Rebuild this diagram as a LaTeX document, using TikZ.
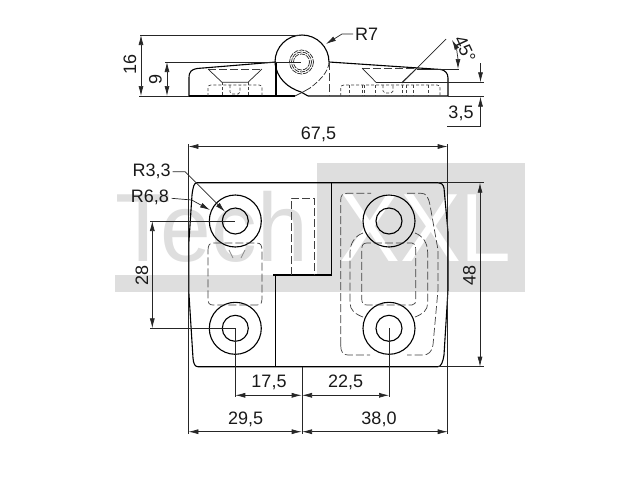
\documentclass[tikz,border=0pt]{standalone}
\usepackage{fontspec}
\setmainfont{Liberation Sans}
\usetikzlibrary{arrows.meta}
\definecolor{wm}{HTML}{DEDEDE}
\tikzset{
  x=1pt,y=-1pt,
  body/.style={line width=1.1pt,black},
  thin line/.style={line width=0.7pt,black!85},
  hid/.style={line width=0.7pt,black!75,dash pattern=on 8pt off 3pt},
  hidd/.style={line width=0.7pt,black!75,dash pattern=on 3pt off 2pt},
  dimn/.style={thin line,{Latex[length=10pt,width=5pt]}-{Latex[length=10pt,width=5pt]}},
  tipend/.style={thin line,-{Latex[length=10pt,width=5pt]}},
  lab/.style={font=\fontsize{18}{18}\selectfont,text=black!90,inner sep=0pt},
  wmt/.style={font=\fontsize{97}{97}\selectfont,inner sep=0pt,anchor=base west}
}
\begin{document}
\begin{tikzpicture}
\useasboundingbox (0,0) rectangle (640,480);
% watermark
\fill[wm] (317,163) rectangle (525,292);
\fill[wm] (115,275) rectangle (317,292);
\node[wmt,text=wm,xscale=0.94] (wmA) at (115,261) {Tech};
\node[wmt,text=white,xscale=0.94] (wmB) at (339,261) {XXL};
% ---- side view ----
\draw[body] (189,96) -- (189,78) .. controls (189,71) and (192,69.5) .. (197,68.5) -- (276,62);
\draw[body] (329,62) -- (441,69.5) .. controls (445,70.5) and (448,73) .. (448,78) -- (448,96) -- (308,96);
\draw[body] (189,96) -- (295,96);
\draw[body] (276,62) -- (276,96);
\draw[body] (275,62) arc[start angle=180,end angle=360,radius=27];
\draw[body] (275,62) .. controls (276,78) and (288,88) .. (301,92) -- (308,96);
\draw[thin line,dash pattern=on 6pt off 2pt] (329,62) .. controls (329,72) and (318,82) .. (310,88);
\draw[thin line] (310,88) -- (303,92) -- (295,96);
\draw[hid] (329,62) -- (329,96);
\foreach \r in {8,10,12}{\draw[thin line,dash pattern=on 5pt off 1pt] (301.5,62) circle[radius=\r];}
% hidden, side left
\draw[hid] (208,69) -- (262,69);
\draw[thin line] (208,69) -- (222,82.3) -- (248,82.3) -- (262,69);
\draw[hidd] (208,96) -- (208,88) .. controls (208,86) and (209,85) .. (211,85) -- (259,85) .. controls (261,85) and (262,86) .. (262,88) -- (262,96);
\draw[hidd] (222.5,82.3) -- (222.5,96) (248,82.3) -- (248,96);
\draw[hidd] (230,85) -- (230,92) -- (232,94) -- (238,94) -- (240,92) -- (240,85);
% hidden, side right
\draw[hid] (362,68) -- (417,68);
\draw[thin line] (362,68) -- (376,82.3) (417,68) -- (402,82.3);
\draw[hidd] (340.7,96) -- (340.7,88) .. controls (340.7,86) and (342,85) .. (344,85) -- (437,85) .. controls (439,85) and (440,86) .. (440,88) -- (440,96);
\foreach \x in {349,362,364,375,402,406,413,428}{\draw[hidd] (\x,85) -- (\x,96);}
\draw[hidd] (383,85) -- (383,91) -- (385,93) -- (391,93) -- (393,91) -- (393,85);
% side view dimensions
\coordinate (topA) at (140,35);
\coordinate (topB) at (301,35);
\coordinate (botA) at (139,96);
\coordinate (botB) at (189,96);
\draw[thin line] (topA) -- (topB);
\draw[thin line] (botA) -- (botB);
\draw[thin line] (165,62) -- (301,62);
\draw[dimn] (141,35) -- (141,96);
\node[lab,rotate=90] (d16) at (130,64.5) {16};
\draw[dimn] (167,62) -- (167,96);
\node[lab,rotate=90] (d9) at (155.5,79) {9};
\coordinate (rA) at (353,34);
\coordinate (rB) at (342,34);
\coordinate (rC) at (326,44);
\draw[tipend] (rA) -- (rB) -- (rC);
\node[lab,anchor=west] (r7) at (355,34.5) {R7};
% 45 deg
\coordinate (apex) at (446,39);
\draw[thin line] (402,83) -- (apex);
\draw[thin line] (417,69.5) -- (459,69.5);
\draw[dimn] (452,40) .. controls (456,47) and (458,58) .. (458,69);
\node[lab,rotate=-65] (d45) at (465,49) {45°};
% 3,5
\draw[thin line] (376,82.3) -- (484,82.3);
\draw[thin line] (448,96.7) -- (484,96.7);
\draw[tipend] (480.5,63) -- (480.5,82.3);
\draw[thin line,{Latex[length=10pt,width=5pt]}-] (480.5,96.7) -- (480.5,126) -- (447,126);
\node[lab] (d35) at (461,113) {3,5};
% ---- plan view ----
\draw[body] (197,182.7) -- (438,182.7) .. controls (441,182.7) and (443,184) .. (444,188)
  -- (448,232) -- (448,290) -- (444,355) .. controls (443,362) and (441,366.7) .. (438,366.7)
  -- (198,366.7) .. controls (195,366.7) and (193.5,364) .. (193,358)
  -- (188.7,290) -- (188.7,245) -- (192,195) .. controls (193,187) and (194,182.7) .. (197,182.7) -- cycle;
\draw[body,line width=1.5pt] (331.3,182.7) -- (331.3,275);
\draw[body] (331.7,275) -- (273.3,275);
\draw[body] (275.7,275) -- (275.7,366.7);
\foreach \n/\cx/\cy in {ha/235.3/221,hb/235.3/328.3,hc/389/221,hd/389/328.3}{
  \draw[body] (\cx,\cy) circle[radius=26];
  \draw[body] (\cx,\cy) circle[radius=13];
}
% hidden, plan
\draw[hid] (291,275) -- (291,198) -- (314,198) -- (314,275);
\draw[thin line,black!45] (229,250) -- (233,258) (241,258) -- (245,250);
\draw[hid] (208,251) .. controls (208,246) and (209,243) .. (213,243) -- (257,243) .. controls (261,243) and (262,246) .. (262,251) -- (262,298) .. controls (262,303) and (261,305) .. (257,305) -- (213,305) .. controls (209,305) and (208,303) .. (208,298) -- cycle;
\draw[hid] (340.7,345) -- (340.7,200) .. controls (340.7,195) and (343,193.3) .. (347,193.3) -- (371,193.3);
\draw[hid] (407,193.3) -- (421,193.3) .. controls (426,193.3) and (428,196) .. (430,205) -- (438,250) -- (438,290) -- (433,345) .. controls (432,352) and (428,355) .. (423,355) -- (407,355);
\draw[hid] (340.7,345) .. controls (340.7,352) and (343,355) .. (348,355) -- (370,355);
\draw[hid] (363,233) .. controls (355,236) and (350,243) .. (350,253) -- (350,303) .. controls (350,310) and (355,314) .. (363,317);
\draw[hid] (415,233) .. controls (423,236) and (427.7,243) .. (427.7,253) -- (427.7,303) .. controls (427.7,310) and (423,314) .. (415,317);
\draw[hid] (367,243) .. controls (363,243) and (361.7,245) .. (361.7,250) -- (361.7,298) .. controls (361.7,303) and (363,305) .. (367,305) -- (412,305) .. controls (415,305) and (415.7,303) .. (415.7,298) -- (415.7,250) .. controls (415.7,245) and (415,243) .. (412,243) -- cycle;
% extension lines
\draw[thin line] (188.4,144) -- (188.4,434);
\draw[thin line] (447.7,144) -- (447.7,434);
\draw[thin line] (302,366.7) -- (302,434);
\draw[thin line] (150,221) -- (235.3,221);
\draw[thin line] (150,328.3) -- (235.3,328.3);
\draw[thin line] (235.3,328.3) -- (235.3,397);
\draw[thin line] (389,328.3) -- (389,397);
\draw[thin line] (438,182.7) -- (484,182.7);
\draw[thin line] (438,366.7) -- (484,366.7);
% dims
\draw[dimn] (188.4,146.5) -- (447.7,146.5);
\node[lab] (d67) at (318.5,134.5) {67,5};
\draw[dimn] (480,182.7) -- (480,366.7);
\node[lab,rotate=90] (d48) at (469.5,275) {48};
\draw[dimn] (152.3,221) -- (152.3,328.3);
\node[lab,rotate=90] (d28) at (142,275) {28};
\draw[dimn] (235.3,395.3) -- (301.7,395.3);
\node[lab] (d175) at (269,382.7) {17,5};
\draw[dimn] (302,395.3) -- (389,395.3);
\node[lab] (d225) at (345.7,382.7) {22,5};
\draw[dimn] (188.4,431.7) -- (301.7,431.7);
\node[lab] (d295) at (245.7,419) {29,5};
\draw[dimn] (302,431.7) -- (447.7,431.7);
\node[lab] (d380) at (379,419) {38,0};
% radii
\node[lab] (r33) at (151.7,171) {R3,3};
\node[lab] (r68) at (150,197.7) {R6,8};
\draw[tipend] (172.7,171.7) -- (185,171.7) -- (225,211.7);
\draw[tipend] (171.7,198.3) -- (191.7,200) -- (210,210);
\end{tikzpicture}
\end{document}
